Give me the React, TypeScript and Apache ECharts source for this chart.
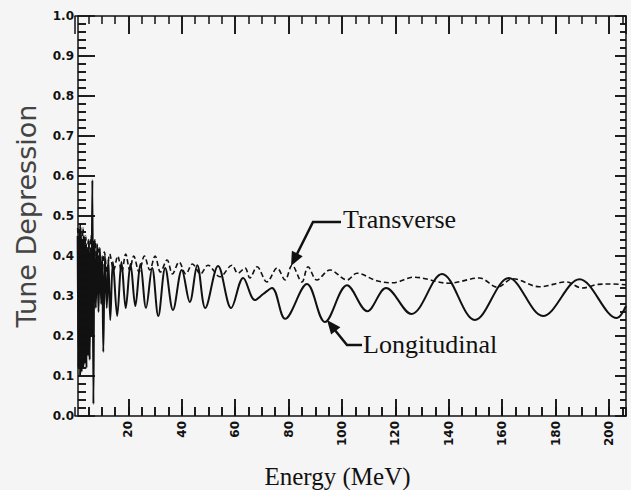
import React, { useEffect, useRef } from "react";
import * as echarts from "echarts";

// Energy (MeV) vs tune depression
const longitudinal: [number, number][] = [
  [1.0, 0.45], [1.3, 0.12], [1.6, 0.47], [1.9, 0.1], [2.2, 0.46], [2.5, 0.11],
  [2.8, 0.44], [3.1, 0.12], [3.4, 0.45], [3.7, 0.13], [4.0, 0.43], [4.3, 0.12],
  [4.6, 0.42], [4.9, 0.15], [5.2, 0.44], [5.5, 0.14], [5.8, 0.41], [6.1, 0.2],
  [6.5, 0.59], [6.9, 0.03], [7.3, 0.44], [7.8, 0.27], [8.3, 0.43], [8.8, 0.26],
  [9.3, 0.42], [9.8, 0.28], [10.2, 0.4], [10.6, 0.16], [11.2, 0.4], [11.9, 0.27],
  [12.5, 0.39], [13.2, 0.24], [14.2, 0.385], [15.8, 0.25], [17.4, 0.385], [19.0, 0.27],
  [20.8, 0.38], [22.6, 0.275], [24.5, 0.38], [26.6, 0.27], [28.9, 0.37], [31.2, 0.25],
  [33.8, 0.37], [36.7, 0.265], [40.0, 0.365], [43.0, 0.285], [45.8, 0.377], [48.8, 0.27],
  [53.6, 0.375], [58.5, 0.27], [63.0, 0.345], [67.4, 0.29], [70.5, 0.305], [73.8, 0.32],
  [78.7, 0.243], [86.9, 0.33], [93.6, 0.235], [101.9, 0.327], [109.5, 0.262], [116.5, 0.32],
  [126.0, 0.255], [137.5, 0.355], [149.8, 0.24], [162.5, 0.345], [175.3, 0.25], [189.0, 0.342],
  [203.0, 0.245], [206.4, 0.275],
];

const transverse: [number, number][] = [
  [1.0, 0.47], [1.5, 0.4], [2.0, 0.48], [2.5, 0.38], [3.0, 0.47], [3.5, 0.39],
  [4.0, 0.45], [4.5, 0.36], [5.0, 0.44], [5.5, 0.38], [6.0, 0.45], [6.8, 0.37],
  [7.5, 0.44], [8.3, 0.36], [9.0, 0.42], [10.0, 0.35], [11.0, 0.41], [12.0, 0.36],
  [13.0, 0.405], [14.5, 0.365], [16.0, 0.4], [17.5, 0.36], [19.0, 0.405], [20.5, 0.365],
  [22.0, 0.4], [24.0, 0.36], [26.0, 0.4], [28.0, 0.365], [30.0, 0.4], [32.0, 0.36],
  [34.5, 0.39], [36.5, 0.355], [39.0, 0.385], [41.5, 0.355], [44.0, 0.38], [47.0, 0.355],
  [49.8, 0.377], [54.3, 0.348], [58.8, 0.377], [61.0, 0.357], [63.7, 0.37], [65.5, 0.345],
  [68.2, 0.373], [71.9, 0.335], [75.7, 0.37], [78.7, 0.34], [81.3, 0.377], [85.0, 0.335],
  [87.3, 0.373], [90.6, 0.34], [95.5, 0.365], [101.9, 0.34], [105.6, 0.357], [113.0, 0.338],
  [119.0, 0.333], [127.0, 0.347], [140.0, 0.332], [151.5, 0.345], [158.2, 0.322], [164.0, 0.343],
  [174.0, 0.323], [184.0, 0.335], [190.0, 0.32], [196.0, 0.329], [200.4, 0.33], [206.4, 0.328],
];

// tick values
const xMajorTicks = [20, 40, 60, 80, 100, 120, 140, 160, 180, 200];
const xMinorTicks = [5, 10, 15, 25, 30, 35, 45, 50, 55, 65, 70, 75, 85, 90, 95, 105, 110, 115,
  125, 130, 135, 145, 150, 155, 165, 170, 175, 185, 190, 195, 205];
const yMajorTicks = [0.1, 0.2, 0.3, 0.4, 0.5, 0.6, 0.7, 0.8, 0.9];
const yMinorTicks: number[] = [];
for (let i = 1; i < 50; i++) if (i % 5 !== 0) yMinorTicks.push(+(i * 0.02).toFixed(2));

const X_MAJOR_STEP = 20;
const X_MINOR_STEP = 5;
const Y_MAJOR_STEP = 0.1;
const X_MIN = 0;
const X_MAX = 206.4;
const INK = "#111";

// plot geometry (pixels)
const GRID_LEFT = 75;
const GRID_RIGHT = 5;
const GRID_TOP = 16;
const GRID_BOTTOM = 74;
const W = 631;
const H = 490;
const PX_PER_X = (W - GRID_LEFT - GRID_RIGHT) / (X_MAX - X_MIN);
const PX_PER_Y = H - GRID_TOP - GRID_BOTTOM;
const Y_AXIS_SHIFT = 3; // left axis line sits 3px inside the grid
const LEFT_AXIS_X = X_MIN + Y_AXIS_SHIFT / PX_PER_X;

function tickLines() {
  const seg = (a: [number, number], b: [number, number]) => [{ coord: a }, { coord: b }];
  const out: any[] = [];
  xMajorTicks.forEach((x) => {
    out.push(seg([x, 0], [x, 17 / PX_PER_Y]));
    out.push(seg([x, 1], [x, 1 - 18 / PX_PER_Y]));
  });
  xMinorTicks.forEach((x) => {
    out.push(seg([x, 0], [x, 9 / PX_PER_Y]));
    out.push(seg([x, 1], [x, 1 - 8 / PX_PER_Y]));
  });
  yMajorTicks.forEach((y) => {
    out.push(seg([LEFT_AXIS_X, y], [LEFT_AXIS_X + 17 / PX_PER_X, y]));
    out.push(seg([X_MAX, y], [X_MAX - 11 / PX_PER_X, y]));
  });
  yMinorTicks.forEach((y) => {
    out.push(seg([LEFT_AXIS_X, y], [LEFT_AXIS_X + 8 / PX_PER_X, y]));
    out.push(seg([X_MAX, y], [X_MAX - 6 / PX_PER_X, y]));
  });
  return out;
}

function buildOption(): any {
  const ts = () => ({ color: INK, width: 1.5 });
  const baseX = () => ({ type: "value", min: X_MIN, max: X_MAX, splitLine: { show: false } });
  return {
    animation: false,
    backgroundColor: "#f5f5f5",
    grid: { left: GRID_LEFT, top: GRID_TOP, right: GRID_RIGHT, bottom: GRID_BOTTOM, containLabel: false, outerBoundsMode: "none" },
    xAxis: [
      {
        ...baseX(),
        position: "bottom",
        interval: X_MAJOR_STEP,
        axisLine: { show: true, onZero: false, lineStyle: { color: INK, width: 1.5 } },
        axisTick: { show: true, inside: true, length: 17, lineStyle: ts() },
        axisLabel: {
          rotate: 90,
          margin: 5,
          fontFamily: "DejaVu Sans",
          fontWeight: "bold",
          fontSize: 12,
          color: INK,
          showMinLabel: false,
          showMaxLabel: false,
          formatter: (v: number) => (v === 0 ? "" : String(v)),
        },
        name: "Energy (MeV)",
        nameLocation: "middle",
        nameGap: 48,
        nameTextStyle: { fontFamily: "Liberation Serif", fontSize: 25, color: INK, padding: [0, 26, 0, 0] },
      },
      {
        ...baseX(),
        position: "bottom",
        interval: X_MINOR_STEP,
        axisLine: { show: false, onZero: false },
        axisTick: { show: true, inside: true, length: 9, lineStyle: ts() },
        axisLabel: { show: false },
      },
      {
        ...baseX(),
        position: "top",
        interval: X_MAJOR_STEP,
        axisLine: { show: true, onZero: false, lineStyle: { color: INK, width: 1.5 } },
        axisTick: { show: true, inside: true, length: 18, lineStyle: ts() },
        axisLabel: { show: false },
      },
    ],
    yAxis: [
      {
        type: "value",
        position: "left",
        offset: -Y_AXIS_SHIFT,
        min: 0,
        max: 1,
        interval: Y_MAJOR_STEP,
        splitLine: { show: false },
        axisLine: { show: true, onZero: false, lineStyle: { color: INK, width: 1.5 } },
        axisTick: { show: true, inside: true, length: 17, lineStyle: ts() },
        minorTick: { show: true, splitNumber: 5, length: 8, lineStyle: ts() },
        axisLabel: {
          formatter: (v: number) => v.toFixed(1),
          margin: 4,
          fontFamily: "DejaVu Sans",
          fontWeight: "bold",
          fontSize: 12,
          color: INK,
        },
        name: "Tune Depression",
        nameLocation: "middle",
        nameRotate: 90,
        nameGap: 38,
        nameTextStyle: { fontFamily: "DejaVu Sans", fontSize: 27, color: "#444" },
      },
      {
        type: "value",
        position: "right",
        min: 0,
        max: 1,
        interval: Y_MAJOR_STEP,
        splitLine: { show: false },
        axisLine: { show: true, onZero: false, lineStyle: { color: INK, width: 1.5 } },
        axisTick: { show: true, inside: true, length: 11, lineStyle: ts() },
        minorTick: { show: true, splitNumber: 5, length: 6, lineStyle: ts() },
        axisLabel: { show: false },
      },
    ],
    series: [
      {
        name: "Longitudinal",
        type: "line",
        data: longitudinal,
        showSymbol: false,
        smooth: 0.35,
        lineStyle: { color: INK, width: 2 },
        z: 3,
        markLine: {
          silent: true,
          symbol: ["none", "none"],
          label: { show: false },
          emphasis: { disabled: true },
          lineStyle: { color: INK, width: 1.5, type: "solid" },
          data: tickLines(),
        },
      },
      {
        name: "Transverse",
        type: "line",
        data: transverse,
        showSymbol: false,
        smooth: 0.35,
        lineStyle: { color: INK, width: 1.6, type: [5, 3] },
        z: 2,
      },
    ],
    graphic: [
      {
        type: "text",
        x: 343,
        y: 219,
        style: { text: "Transverse", fontFamily: "Liberation Serif", fontSize: 26, fill: INK, verticalAlign: "middle", align: "left" },
      },
      {
        type: "text",
        x: 363,
        y: 344,
        style: { text: "Longitudinal", fontFamily: "Liberation Serif", fontSize: 26, fill: INK, verticalAlign: "middle", align: "left" },
      },
      {
        type: "polyline",
        shape: { points: [[341, 222], [313, 222], [297, 254]] },
        style: { stroke: INK, lineWidth: 2.5, fill: null },
      },
      {
        type: "polygon",
        shape: { points: [[291, 266], [302.7, 256.2], [291.9, 250.8]] },
        style: { fill: INK },
      },
      {
        type: "polyline",
        shape: { points: [[362, 345], [347, 345], [334, 329]] },
        style: { stroke: INK, lineWidth: 2.5, fill: null },
      },
      {
        type: "polygon",
        shape: { points: [[327, 320], [340.4, 327.2], [331.1, 334.6]] },
        style: { fill: INK },
      },
    ],
  };
}

export default function App() {
  const ref = useRef<HTMLDivElement>(null);
  useEffect(() => {
    if (!ref.current) return;
    const chart = echarts.init(ref.current, undefined, { renderer: "svg" });
    chart.setOption(buildOption());
    return () => chart.dispose();
  }, []);
  return (
    <div style={{ position: "fixed", left: 0, top: 0, width: W, height: H, background: "#f5f5f5", fontSize: 0 }}>
      <div ref={ref} style={{ width: W, height: H, display: "inline-block" }} />
    </div>
  );
}
